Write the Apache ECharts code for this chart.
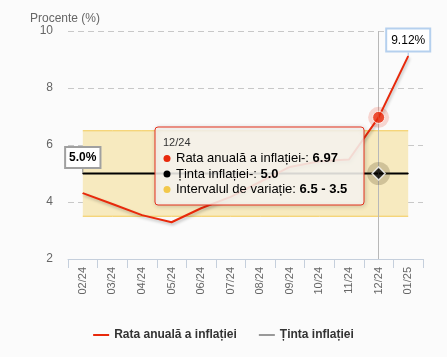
<!DOCTYPE html>
<html>
<head>
<meta charset="utf-8">
<script src="https://cdn.jsdelivr.net/npm/echarts@6/dist/echarts.min.js"></script>
<style>
html,body{margin:0;padding:0;background:#fbfbfb;}
#c{width:447px;height:357px;}
</style>
</head>
<body>
<div id="c"></div>
<script>
const categories = ['02/24','03/24','04/24','05/24','06/24','07/24','08/24','09/24','10/24','11/24','12/24','01/25'];
const rate = [4.31, 3.93, 3.54, 3.29, 3.78, 4.18, 4.71, 5.23, 5.43, 5.49, 6.97, 9.12];
const target = [5.0, 5.0, 5.0, 5.0, 5.0, 5.0, 5.0, 5.0, 5.0, 5.0, 5.0, 5.0];
const bandLow = [3.5, 3.5, 3.5, 3.5, 3.5, 3.5, 3.5, 3.5, 3.5, 3.5, 3.5, 3.5];
const bandHigh = [6.5, 6.5, 6.5, 6.5, 6.5, 6.5, 6.5, 6.5, 6.5, 6.5, 6.5, 6.5];
const yTicks = [2, 4, 6, 8, 10];
const hoverIndex = 10;

const RED = '#e8290b';
const GOLD = '#f3ca55';
const FONT = '"Liberation Sans", Arial, sans-serif';

const chart = echarts.init(document.getElementById('c'), null, {renderer: 'canvas'});

const tipRows = [
  {color: RED, name: 'Rata anuală a inflației-: ', value: rate[hoverIndex].toFixed(2)},
  {color: '#000', name: 'Ținta inflației-: ', value: target[hoverIndex].toFixed(1)},
  {color: '#f2c84b', name: 'Intervalul de variație: ', value: bandHigh[hoverIndex].toFixed(1) + ' - ' + bandLow[hoverIndex].toFixed(1)}
];

const TX = 155, TY = 127;
const tipEls = [
  {type: 'rect', z: 100, shape: {x: TX, y: TY, width: 209, height: 78, r: 3},
   style: {fill: 'rgba(250,248,243,0.86)', stroke: '#e5301c', lineWidth: 1,
           shadowBlur: 5, shadowColor: 'rgba(0,0,0,0.18)', shadowOffsetX: 1, shadowOffsetY: 1}},
  {type: 'text', z: 101, x: TX + 8, y: TY + 16, style: {text: categories[hoverIndex], font: '11px ' + FONT, fill: '#333', textVerticalAlign: 'middle', verticalAlign: 'middle'}}
];
tipRows.forEach((r, i) => {
  const cy = TY + 31.5 + i * 15.5;
  tipEls.push({type: 'circle', z: 101, shape: {cx: TX + 12, cy: cy, r: 3.5}, style: {fill: r.color}});
  tipEls.push({type: 'text', z: 101, x: TX + 21, y: cy, style: {
    text: '{n|' + r.name + '}{b|' + r.value + '}',
    textVerticalAlign: 'middle', verticalAlign: 'middle',
    rich: {n: {fontSize: 13, fontFamily: FONT, color: '#333'}, b: {fontSize: 13, fontFamily: FONT, color: '#333', fontWeight: 'bold'}}
  }});
});

const option = {
  backgroundColor: '#fbfbfb',
  animation: false,
  title: {text: 'Procente (%)', left: 25, top: 8, textStyle: {fontSize: 12, fontWeight: 'normal', color: '#666', fontFamily: FONT}},
  grid: {left: 68, right: 24, top: 31, bottom: 98},
  legend: {
    left: 'center', top: 324, itemWidth: 16, itemHeight: 2, itemGap: 22, icon: 'rect',
    textStyle: {fontSize: 12, fontWeight: 'bold', color: '#333', fontFamily: FONT},
    data: [
      {name: 'Rata anuală a inflației', itemStyle: {color: RED}},
      {name: 'Ținta inflației', itemStyle: {color: '#999'}}
    ]
  },
  xAxis: {
    type: 'category', data: categories, boundaryGap: true,
    axisLine: {lineStyle: {color: '#c5cfdc'}},
    axisTick: {show: true, length: 9, interval: 0, lineStyle: {color: '#c5cfdc'}},
    axisLabel: {rotate: 90, interval: 0, margin: 8, fontSize: 11, color: '#666', fontFamily: FONT},
    splitLine: {show: false}
  },
  yAxis: {
    type: 'value', min: yTicks[0], max: yTicks[yTicks.length - 1], interval: 2,
    axisLine: {show: false}, axisTick: {show: false},
    axisLabel: {margin: 15, fontSize: 12, color: '#666', fontFamily: FONT},
    splitLine: {lineStyle: {color: '#c8c8c8', type: [6, 4]}}
  },
  series: [
    {name: 'bandLow', type: 'line', stack: 'band', data: bandLow, symbol: 'none', silent: true,
     lineStyle: {color: GOLD, width: 1}, z: 1},
    {name: 'bandSpan', type: 'line', stack: 'band', data: bandHigh.map((v, i) => v - bandLow[i]), symbol: 'none', silent: true,
     lineStyle: {color: GOLD, width: 1}, areaStyle: {color: '#f7eabf', opacity: 1}, z: 1},
    {name: 'Ținta inflației', type: 'line',
     data: target.map((v, i) => i === 0 ? {value: v, label: {show: true}} : v),
     symbol: 'circle', symbolSize: 1, showSymbol: true, color: '#000', itemStyle: {color: '#000'},
     lineStyle: {color: '#000', width: 2}, z: 3,
     label: {show: false, position: 'top', distance: 0, formatter: p => p.value.toFixed(1) + '%',
       backgroundColor: '#fff', borderColor: '#a0a0a0', borderWidth: 2, padding: [4, 3, 3, 3],
       fontSize: 12, fontWeight: 'bold', color: '#000', fontFamily: FONT},
     labelLayout: {dy: -6},
     labelLine: {show: true, lineStyle: {color: '#888', width: 1}},
     markLine: {silent: true, symbol: 'none', label: {show: false},
       lineStyle: {color: '#b8b8b8', width: 1, type: 'solid'},
       data: [{xAxis: categories[hoverIndex]}]}
    },
    {name: 'Rata anuală a inflației', type: 'line',
     data: rate.map((v, i) => i === rate.length - 1 ? {value: v, label: {show: true}} : v),
     symbol: 'circle', symbolSize: 1, showSymbol: true, color: RED, itemStyle: {color: RED},
     lineStyle: {color: RED, width: 2, shadowColor: 'rgba(0,0,0,0.25)', shadowBlur: 3, shadowOffsetY: 2, shadowOffsetX: 1}, z: 4,
     label: {show: false, position: 'top', distance: 0, formatter: p => p.value.toFixed(2) + '%',
       backgroundColor: '#fff', borderColor: '#b5d0ee', borderWidth: 2, padding: [5, 4, 4, 4],
       fontSize: 12, fontWeight: 'normal', color: '#000', fontFamily: FONT},
     labelLayout: {dy: -5},
     labelLine: {show: true, lineStyle: {color: '#9fc2e8', width: 1}}
    },
    {name: 'halo', type: 'scatter', silent: true, z: 5,
     data: [
       {value: [categories[hoverIndex], rate[hoverIndex]], symbol: 'circle', symbolSize: 21, itemStyle: {color: 'rgba(232,41,11,0.22)'}},
       {value: [categories[hoverIndex], target[hoverIndex]], symbol: 'circle', symbolSize: 23, itemStyle: {color: 'rgba(70,60,20,0.28)'}}
     ]},
    {name: 'marker', type: 'scatter', silent: true, z: 6,
     data: [
       {value: [categories[hoverIndex], rate[hoverIndex]], symbol: 'circle', symbolSize: 12, itemStyle: {color: RED, borderColor: '#fff', borderWidth: 1}},
       {value: [categories[hoverIndex], target[hoverIndex]], symbol: 'diamond', symbolSize: 13, itemStyle: {color: '#000', borderColor: '#fff', borderWidth: 1.5}}
     ]}
  ],
  graphic: tipEls
};
chart.setOption(option);
</script>
</body>
</html>
